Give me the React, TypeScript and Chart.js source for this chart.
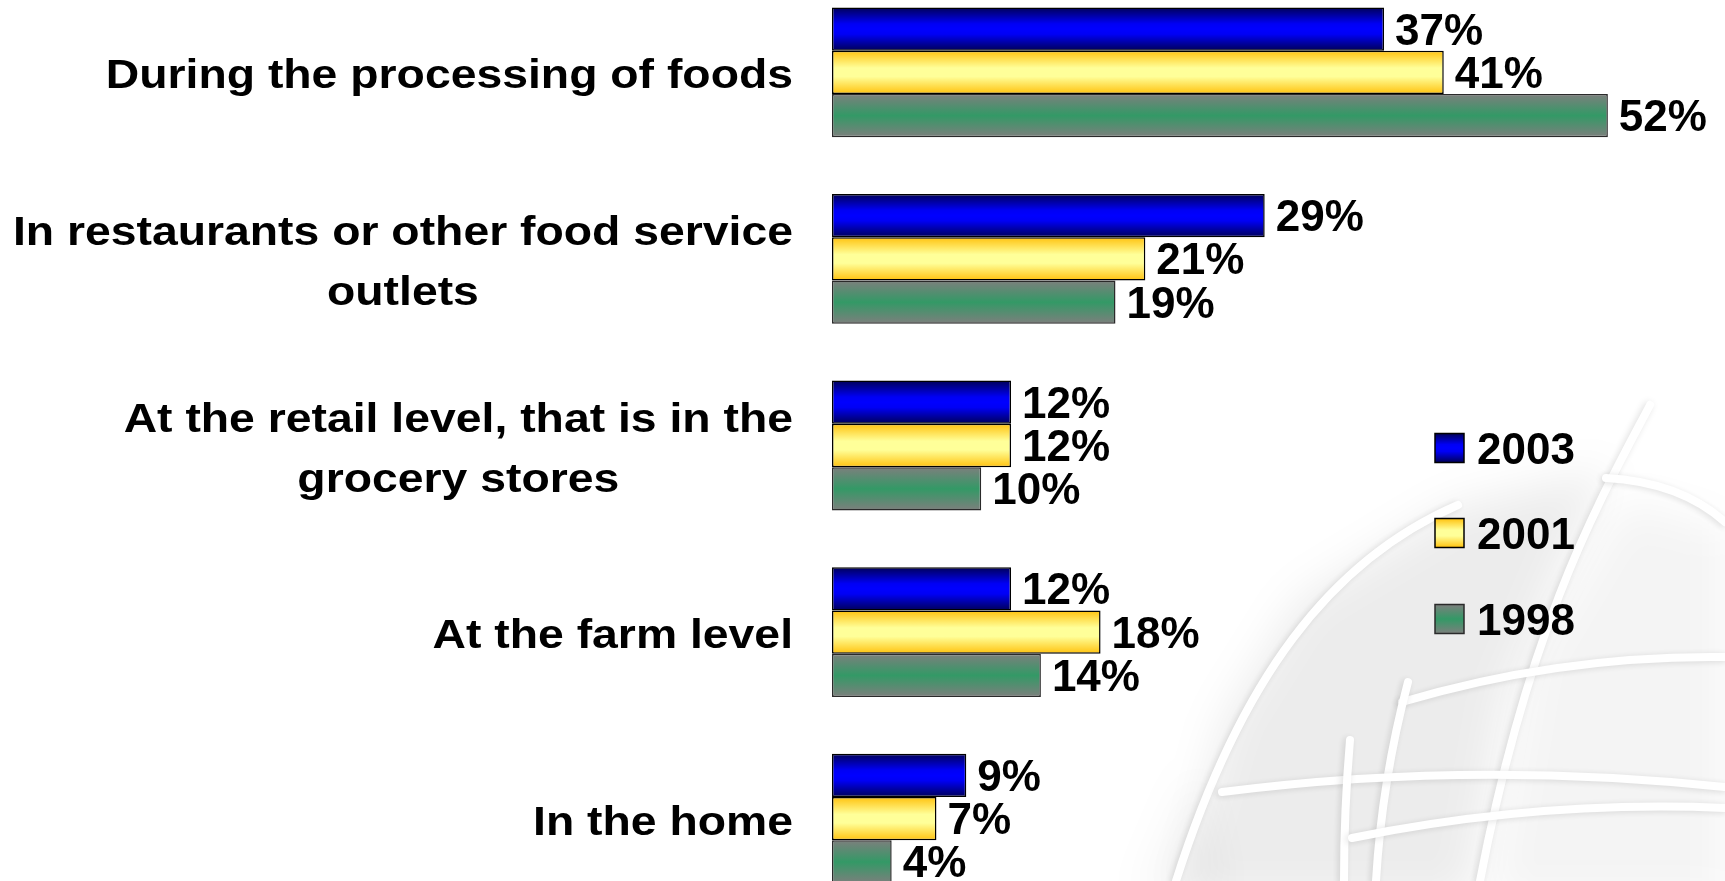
import React, { useEffect, useRef } from 'react';
import { Chart, registerables } from 'chart.js';

Chart.register(...registerables);

// ---------- data ----------
const categories: string[][] = [
  ['During the processing of foods'],
  ['In restaurants or other food service', 'outlets'],
  ['At the retail level, that is in the', 'grocery stores'],
  ['At the farm level'],
  ['In the home'],
];
const seriesNames = ['2003', '2001', '1998'];
const values2003 = [37, 29, 12, 12, 9];
const values2001 = [41, 21, 12, 18, 7];
const values1998 = [52, 19, 10, 14, 4];

// ---------- styles ----------
const FONT = '"Liberation Sans", Arial, Helvetica, sans-serif';
const CAT_PCT = 0.6955;
const X_MAX = 59.85;
const Y_SHIFT = 21; // canvas sits 21px above the page top
type Stop = [number, string];
const stops2003: Stop[] = [[0, '#000058'], [0.38, '#0000f5'], [0.5, '#0000ff'], [0.62, '#0000f5'], [1, '#000058']];
const stops2001: Stop[] = [[0, '#ffc20e'], [0.4, '#ffff99'], [0.6, '#ffff99'], [1, '#ffc20e']];
const stops1998: Stop[] = [[0, '#7d7f7d'], [0.5, '#339966'], [1, '#7d7f7d']];
const allStops = [stops2003, stops2001, stops1998];
const borders = ['#000000', '#000000', '#2a2a2a'];

function makeBg(dsIndex: number, stops: Stop[]) {
  return (ctx: any) => {
    const chart = ctx.chart;
    const area = chart.chartArea;
    if (!area || ctx.type !== 'data' || !chart.scales.y) return stops[Math.floor(stops.length / 2)][1];
    const catH = (area.bottom - area.top) / categories.length;
    const groupH = catH * CAT_PCT;
    const barH = groupH / seriesNames.length;
    const top = chart.scales.y.getPixelForValue(ctx.dataIndex) - groupH / 2 + dsIndex * barH;
    const g = chart.ctx.createLinearGradient(0, top, 0, top + barH);
    stops.forEach(([o, c]) => g.addColorStop(o, c));
    return g;
  };
}

function drawWatermark(c: CanvasRenderingContext2D) {
  const Y = (y: number) => y + Y_SHIFT;
  const poly = (pts: number[][], fill: string) => {
    c.beginPath();
    pts.forEach(([x, y], i) => (i ? c.lineTo(x, Y(y)) : c.moveTo(x, Y(y))));
    c.closePath();
    c.fillStyle = fill;
    c.fill();
  };
  c.save();
  c.filter = 'blur(22px)';
  poly([[1454, 507], [1610, 470], [1565, 560], [1505, 700], [1470, 900], [1175, 900], [1225, 720], [1300, 600]], 'rgba(0,0,0,0.075)');
  poly([[1625, 500], [1725, 530], [1725, 900], [1490, 900], [1530, 660]], 'rgba(0,0,0,0.045)');
  poly([[1140, 900], [1200, 760], [1230, 900]], 'rgba(0,0,0,0.04)');
  c.filter = 'none';

  const curves: Array<() => void> = [
    () => { c.moveTo(1650, Y(405)); c.bezierCurveTo(1600, Y(500), 1530, Y(620), 1480, Y(881)); },
    () => { c.moveTo(1458, Y(505)); c.bezierCurveTo(1330, Y(560), 1240, Y(680), 1176, Y(881)); },
    () => { c.moveTo(1606, Y(478)); c.quadraticCurveTo(1680, Y(482), 1725, Y(522)); },
    () => { c.moveTo(1402, Y(702)); c.quadraticCurveTo(1560, Y(655), 1725, Y(657)); },
    () => { c.moveTo(1408, Y(682)); c.quadraticCurveTo(1382, Y(780), 1376, Y(881)); },
    () => { c.moveTo(1222, Y(792)); c.quadraticCurveTo(1470, Y(760), 1725, Y(787)); },
    () => { c.moveTo(1350, Y(740)); c.quadraticCurveTo(1344, Y(810), 1344, Y(881)); },
    () => { c.moveTo(1352, Y(838)); c.quadraticCurveTo(1540, Y(800), 1725, Y(808)); },
  ];
  c.lineCap = 'round';
  c.shadowColor = 'rgba(0,0,0,0.13)';
  c.shadowBlur = 7;
  c.shadowOffsetX = -2;
  c.shadowOffsetY = 1;
  curves.forEach((f) => {
    c.beginPath();
    f();
    c.strokeStyle = '#ffffff';
    c.lineWidth = 8;
    c.stroke();
  });
  c.restore();
}

const decorPlugin = {
  id: 'decor',
  beforeDatasetsDraw(chart: any) {
    drawWatermark(chart.ctx);
  },
  afterDatasetsDraw(chart: any) {
    const c: CanvasRenderingContext2D = chart.ctx;
    c.save();
    c.fillStyle = '#000';
    c.font = `bold 44px ${FONT}`;
    c.textAlign = 'left';
    c.textBaseline = 'alphabetic';
    chart.data.datasets.forEach((ds: any, di: number) => {
      const meta = chart.getDatasetMeta(di);
      meta.data.forEach((el: any, i: number) => {
        c.fillText(`${ds.data[i]}%`, el.x + 11, el.y + 15.5);
      });
    });
    // category labels (right aligned block, centred lines)
    const sx = 1.13;
    const size = 41;
    c.font = `bold ${size}px ${FONT}`;
    const right = 793;
    const yScale = chart.scales.y;
    categories.forEach((lines, i) => {
      const cy = yScale.getPixelForValue(i);
      const w = Math.max(...lines.map((l) => c.measureText(l).width)) * sx;
      const cx = right - w / 2;
      const lh = 60;
      lines.forEach((l, k) => {
        const ly = cy + (k - (lines.length - 1) / 2) * lh + 16;
        c.save();
        c.translate(cx, ly);
        c.scale(sx, 1);
        c.textAlign = 'center';
        c.fillText(l, 0, 0);
        c.restore();
      });
    });
    // legend
    const legendYs = [448, 533, 619];
    seriesNames.forEach((name, i) => {
      const cy = legendYs[i] + Y_SHIFT;
      const x0 = 1435, s = 29;
      const g = c.createLinearGradient(0, cy - s / 2, 0, cy + s / 2);
      allStops[i].forEach(([o, col]) => g.addColorStop(o, col));
      c.fillStyle = g;
      c.fillRect(x0, cy - s / 2, s, s);
      c.lineWidth = 1.5;
      c.strokeStyle = borders[i];
      c.strokeRect(x0, cy - s / 2, s, s);
      c.fillStyle = '#000';
      c.font = `bold 44px ${FONT}`;
      c.textAlign = 'left';
      c.fillText(name, 1477, cy + 15.5);
    });
    c.restore();
  },
};

export default function App() {
  const ref = useRef<HTMLCanvasElement | null>(null);
  useEffect(() => {
    if (!ref.current) return;
    const seriesValues = [values2003, values2001, values1998];
    const chart = new Chart(ref.current, {
      type: 'bar',
      data: {
        labels: categories,
        datasets: seriesNames.map((name, i) => ({
          label: name,
          data: seriesValues[i],
          backgroundColor: makeBg(i, allStops[i]),
          borderColor: borders[i],
          borderWidth: 1.5,
          borderSkipped: false,
          categoryPercentage: CAT_PCT,
          barPercentage: 1,
        })),
      },
      options: {
        indexAxis: 'y',
        responsive: false,
        animation: false,
        layout: { padding: { left: 832, right: 0, top: 0, bottom: 0 } },
        scales: {
          x: { display: false, min: 0, max: X_MAX },
          y: { display: false, offset: true },
        },
        plugins: { legend: { display: false }, tooltip: { enabled: false } },
      },
      plugins: [decorPlugin],
    } as any);
    return () => chart.destroy();
  }, []);
  return (
    <div style={{ position: 'fixed', left: 0, top: 0, width: 1725, height: 881, overflow: 'hidden', background: '#fff' }}>
      <div style={{ position: 'absolute', left: 0, top: -Y_SHIFT, width: 1725, height: 933 }}>
        <canvas ref={ref} width={1725} height={933} style={{ display: 'block' }} />
      </div>
    </div>
  );
}
